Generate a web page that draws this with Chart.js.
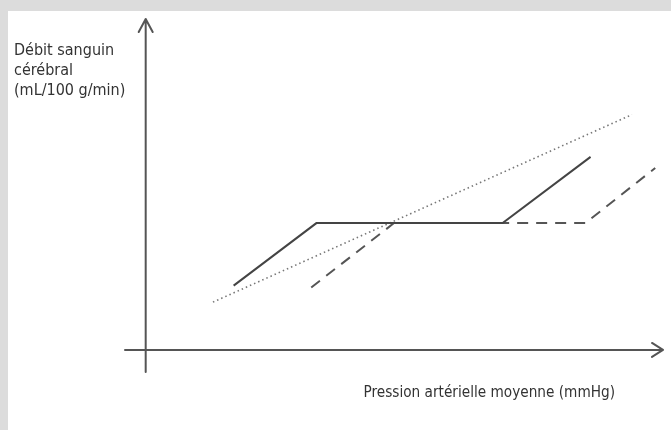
<!DOCTYPE html>
<html lang="fr">
<head>
<meta charset="utf-8">
<title>Débit sanguin cérébral</title>
<script src="https://cdn.jsdelivr.net/npm/chart.js@4"></script>
<style>
  html, body { margin: 0; padding: 0; }
  body { width: 671px; height: 430px; background: #dcdcdc; position: relative; overflow: hidden; }
  #sheet { position: absolute; left: 8px; top: 11px; right: 0; bottom: 0; background: #fff; }
  #wrap { position: absolute; left: 0; top: 0; width: 671px; height: 430px; }
</style>
</head>
<body>
<div id="sheet"></div>
<div id="wrap"><canvas id="flow"></canvas></div>
<script>
// axis ranges (arbitrary units, axes cross at 0,0)
const xLimits = [-4, 100];
const yLimits = [-6, 90];

// solid curve: normal autoregulation
const normalX = [17, 33, 69, 86];
const normalY = [17.5, 34.5, 34.5, 52.5];

// dashed curve: shifted autoregulation
const shiftedX = [32, 48, 85, 98.5];
const shiftedY = [17, 34.5, 34.5, 49.5];

// dotted line: no autoregulation
const passiveX = [13, 94];
const passiveY = [13, 64];

const yTitle = ['Débit sanguin', 'cérébral', '(mL/100 g/min)'];
const xTitle = 'Pression artérielle moyenne (mmHg)';

const toPoints = (xs, ys) => xs.map((x, i) => ({ x: x, y: ys[i] }));

const fontFamily = '"Liberation Sans Narrow", "DejaVu Sans Condensed", sans-serif';

const axesPlugin = {
  id: 'arrowAxes',
  beforeDatasetsDraw(chart) {
    const { ctx, chartArea, scales } = chart;
    const x0 = scales.x.getPixelForValue(0);
    const y0 = scales.y.getPixelForValue(0);
    ctx.save();
    ctx.strokeStyle = '#555';
    ctx.lineWidth = 2;
    ctx.lineCap = 'round';
    ctx.lineJoin = 'round';
    // y axis
    ctx.beginPath();
    ctx.moveTo(x0, chartArea.bottom);
    ctx.lineTo(x0, chartArea.top);
    ctx.moveTo(x0 - 7, chartArea.top + 13);
    ctx.lineTo(x0, chartArea.top);
    ctx.lineTo(x0 + 7, chartArea.top + 13);
    // x axis
    ctx.moveTo(chartArea.left, y0);
    ctx.lineTo(chartArea.right, y0);
    ctx.moveTo(chartArea.right - 11, y0 - 7);
    ctx.lineTo(chartArea.right, y0);
    ctx.lineTo(chartArea.right - 11, y0 + 7);
    ctx.stroke();
    ctx.restore();
  },
  afterDraw(chart) {
    const { ctx } = chart;
    ctx.save();
    ctx.fillStyle = '#333';
    ctx.textBaseline = 'alphabetic';
    ctx.font = '16px ' + fontFamily;
    ctx.textAlign = 'left';
    yTitle.forEach((line, i) => ctx.fillText(line, 14, 55 + i * 20));
    ctx.font = '15.2px ' + fontFamily;
    ctx.textAlign = 'right';
    ctx.fillText(xTitle, 615, 397);
    ctx.restore();
  }
};

const chart = new Chart(document.getElementById('flow'), {
  type: 'scatter',
  data: {
    datasets: [
      {
        label: 'normal',
        data: toPoints(normalX, normalY),
        showLine: true,
        borderColor: '#444',
        borderWidth: 2,
        pointRadius: 0
      },
      {
        label: 'décalée',
        data: toPoints(shiftedX, shiftedY),
        showLine: true,
        borderColor: '#555',
        borderWidth: 2,
        borderDash: [11, 8],
        pointRadius: 0
      },
      {
        label: 'passive',
        data: toPoints(passiveX, passiveY),
        showLine: true,
        borderColor: '#777',
        borderWidth: 1.6,
        borderDash: [1.5, 3],
        pointRadius: 0
      }
    ]
  },
  options: {
    responsive: true,
    maintainAspectRatio: false,
    animation: false,
    layout: { padding: { left: 125, right: 8, top: 19, bottom: 58 } },
    plugins: {
      legend: { display: false },
      tooltip: { enabled: false }
    },
    scales: {
      x: { type: 'linear', min: xLimits[0], max: xLimits[1], display: false },
      y: { type: 'linear', min: yLimits[0], max: yLimits[1], display: false }
    }
  },
  plugins: [axesPlugin]
});
</script>
</body>
</html>
